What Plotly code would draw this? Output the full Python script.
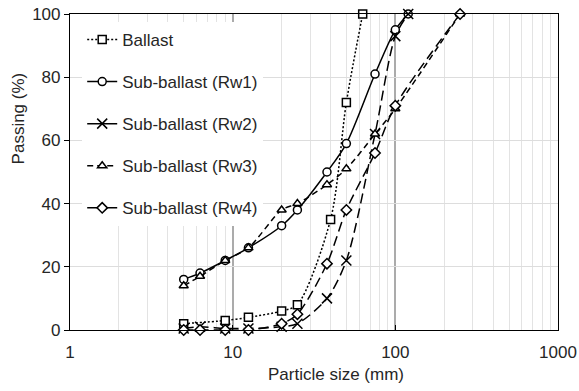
import plotly.graph_objects as go

# Particle size distribution (sieve sizes in mm, % passing)
ballast_size = [5, 9, 12.5, 20, 25, 40, 50, 63]
ballast_pass = [2, 3, 4, 6, 8, 35, 72, 100]

rw1_size = [5, 6.3, 9, 12.5, 20, 25, 38, 50, 75, 100, 120]
rw1_pass = [16, 18, 22, 26, 33, 38, 50, 59, 81, 95, 100]

rw2_size = [5, 6.3, 9, 12.5, 20, 25, 38, 50, 75, 100, 120]
rw2_pass = [0.5, 1, 0.5, 0.5, 1, 2, 10, 22, 62, 93, 100]

rw3_size = [5, 6.3, 9, 12.5, 20, 25, 38, 50, 75, 100, 250]
rw3_pass = [14, 17, 22, 26, 38, 40, 46, 51, 62, 70, 100]

rw4_size = [5, 6.3, 9, 12.5, 20, 25, 38, 50, 75, 100, 250]
rw4_pass = [0, 0, 0, 0, 2, 5, 21, 38, 56, 71, 100]

x_ticks = [1, 10, 100, 1000]
x_tick_text = ["1", "10", "100", "1000"]
y_ticks = [0, 20, 40, 60, 80, 100]

FONT = "Liberation Sans, Arial, sans-serif"
TXT = "#262626"
FS = 17
LW = 1.5


def marker(symbol):
    return dict(symbol=symbol, size=8, color="white",
                line=dict(color="black", width=1.5))


fig = go.Figure()

series = [
    ("Ballast", ballast_size, ballast_pass, "square", "2px,2px", "2px,2px"),
    ("Sub-ballast (Rw1)", rw1_size, rw1_pass, "circle", "solid", "solid"),
    ("Sub-ballast (Rw2)", rw2_size, rw2_pass, "x-thin", "10px,5px", "solid"),
    ("Sub-ballast (Rw3)", rw3_size, rw3_pass, "triangle-up", "6px,4px", "6px,4px"),
    ("Sub-ballast (Rw4)", rw4_size, rw4_pass, "diamond", "10px,5px", "solid"),
]

for name, xs, ys, sym, dash, legend_dash in series:
    mk = marker(sym)
    if sym == "x-thin":
        mk = dict(symbol="x-thin", size=10, color="black",
                  line=dict(color="black", width=1.5))
    same = dash == legend_dash
    fig.add_trace(go.Scatter(
        x=xs, y=ys, name=name, legendgroup=name, mode="lines+markers",
        line=dict(color="black", width=LW, dash=dash, shape="spline",
                  smoothing=0.8),
        marker=mk, showlegend=same, cliponaxis=False,
    ))
    if not same:
        # legend sample uses a plain line for this series
        fig.add_trace(go.Scatter(
            x=[None], y=[None], name=name, legendgroup=name,
            mode="lines+markers",
            line=dict(color="black", width=LW, dash=legend_dash),
            marker=mk, showlegend=True,
        ))

fig.update_layout(
    width=579, height=391,
    margin=dict(l=70, r=21, t=14, b=61),
    paper_bgcolor="white", plot_bgcolor="white",
    font=dict(family=FONT, size=FS, color=TXT),
    showlegend=True,
    legend=dict(
        x=0.025, y=0.975, xanchor="left", yanchor="top",
        bgcolor="white", borderwidth=0,
        font=dict(family=FONT, size=FS, color=TXT),
        traceorder="grouped", tracegroupgap=17,
    ),
    xaxis=dict(
        type="log", range=[0, 3], automargin=False,
        tickvals=x_ticks, ticktext=x_tick_text,
        showline=True, linecolor="black", linewidth=1.2, mirror=True,
        ticks="inside", ticklen=5, tickcolor="black",
        ticklabelstandoff=6,
        showgrid=True, gridcolor="#ababab", gridwidth=1.5,
        minor=dict(dtick="D1", showgrid=True, gridcolor="#e3e3e3",
                   gridwidth=1, ticks=""),
        zeroline=False,
    ),
    yaxis=dict(
        range=[0, 100], tickvals=y_ticks, automargin=False,
        showline=True, linecolor="black", linewidth=1.2, mirror=True,
        ticks="outside", ticklen=5, tickcolor="black",
        showgrid=True, gridcolor="#dddddd", gridwidth=1.2,
        zeroline=False,
    ),
    yaxis2=dict(
        overlaying="y", side="right", range=[0, 100], tickvals=y_ticks,
        showticklabels=False, ticks="inside", ticklen=5, tickcolor="black",
        showgrid=False, showline=False, zeroline=False, automargin=False,
    ),
    annotations=[
        dict(text="Particle size (mm)", xref="paper", yref="paper",
             x=0.5446, y=-0.1424, xanchor="center", yanchor="middle",
             showarrow=False, font=dict(family=FONT, size=FS, color=TXT)),
        dict(text="Passing (%)", xref="paper", yref="paper",
             x=-0.1036, y=0.671, xanchor="center", yanchor="middle",
             textangle=-90, showarrow=False,
             font=dict(family=FONT, size=FS, color=TXT)),
    ],
)

fig.write_html("out.html")
